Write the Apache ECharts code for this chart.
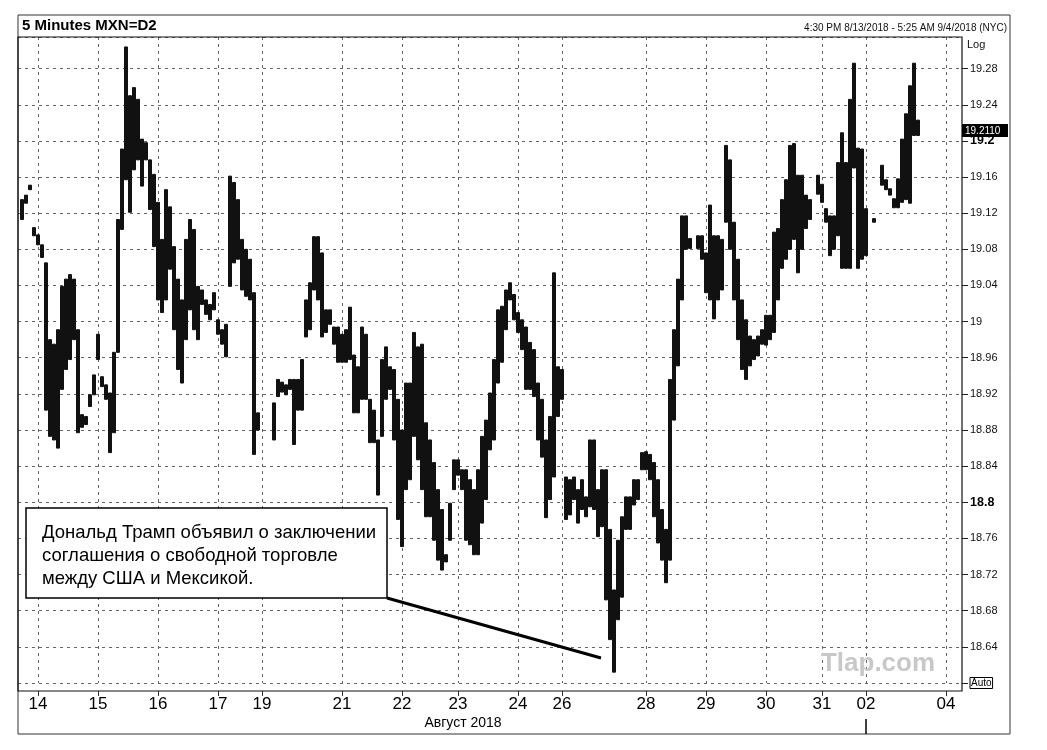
<!DOCTYPE html>
<html><head><meta charset="utf-8">
<script src="https://cdn.jsdelivr.net/npm/echarts/dist/echarts.min.js"></script>
<style>html,body{margin:0;padding:0;background:#fff}#c{width:1047px;height:750px}</style>
</head><body><div id="c"></div><script>
// Day labels on the compressed 5-minute time axis and the bar slot where each day starts
const dayLabels = ['14','15','16','17','19','21','22','23','24','26','28','29','30','31','02','04'];
const daySlots  = [5,20,35,50,61,81,96,110,125,136,157,172,187,201,212,232];
const slotCount = 237;
// Price range per slot (MXN per USD)
const highs = [null,19.135,19.140,19.151,19.104,19.096,19.085,19.065,18.980,18.975,
18.991,19.039,19.047,19.052,19.047,18.991,18.897,18.895,18.919,18.941,
18.986,18.939,18.930,18.921,18.966,19.113,19.191,19.304,19.250,19.259,
19.246,19.202,19.198,19.179,19.163,19.132,19.091,19.146,19.127,19.083,
19.047,19.024,19.091,19.113,19.102,19.039,19.035,19.024,19.019,19.032,
19.002,18.991,18.997,19.161,19.154,19.135,19.091,19.080,19.069,19.032,
18.899,null,null,null,18.910,18.936,18.933,18.930,18.936,18.936,
18.936,18.958,19.024,19.043,19.094,19.094,19.076,19.013,19.013,18.994,
18.994,18.986,18.991,19.016,18.963,18.950,18.994,18.986,18.914,18.902,
18.869,18.958,18.972,18.950,18.947,18.914,18.880,18.932,18.932,18.988,
18.972,18.975,18.888,18.869,18.844,18.814,18.792,18.742,18.799,18.847,
18.847,18.836,18.836,18.825,18.814,18.836,18.873,18.891,18.921,18.958,
19.013,19.017,19.035,19.043,19.030,19.010,19.002,18.994,18.977,18.969,
18.932,18.914,18.869,18.895,19.054,18.950,18.947,18.828,18.825,18.828,
18.814,18.825,18.806,18.869,18.869,18.814,18.836,18.836,18.770,18.703,
18.758,18.784,18.806,18.806,18.825,18.825,18.855,18.856,18.853,18.844,
18.825,18.792,18.770,18.936,18.991,19.047,19.117,19.117,19.092,null,
19.095,19.095,19.076,19.129,19.095,19.095,19.091,19.195,19.179,19.110,
19.069,19.024,19.002,18.984,18.980,18.984,18.991,19.007,19.007,19.099,
19.103,19.135,19.157,19.195,19.197,19.162,19.162,19.140,19.135,null,
19.162,19.152,19.125,19.117,19.117,19.176,19.209,19.176,19.246,19.286,
19.192,19.191,19.125,null,19.114,null,19.173,19.157,19.147,19.136,
19.158,19.202,19.230,19.261,19.286,19.223];
const lows = [null,19.113,19.131,19.146,19.095,19.085,19.071,18.902,18.873,18.869,
18.860,18.925,18.947,18.958,18.980,18.877,18.883,18.886,18.906,18.919,
18.958,18.928,18.914,18.855,18.877,18.966,19.102,19.157,19.121,19.168,
19.179,19.150,19.179,19.124,19.083,19.024,19.010,19.024,19.058,18.991,
18.947,18.932,18.980,19.013,18.991,18.980,19.019,19.008,19.002,19.013,
18.986,18.975,18.961,19.039,19.065,19.069,19.035,19.028,19.024,18.853,
18.880,null,null,null,18.869,18.917,18.922,18.919,18.925,18.864,
18.902,18.902,18.983,18.991,19.035,19.024,18.983,18.988,18.997,18.975,
18.955,18.955,18.955,18.958,18.899,18.899,18.914,18.914,18.866,18.866,
18.808,18.873,18.914,18.925,18.869,18.781,18.751,18.814,18.825,18.873,
18.847,18.814,18.784,18.784,18.758,18.736,18.725,18.734,18.758,18.814,
18.830,18.814,18.758,18.753,18.742,18.742,18.777,18.803,18.858,18.869,
18.932,18.955,18.991,19.024,19.002,18.988,18.969,18.925,18.925,18.917,
18.869,18.850,18.783,18.803,18.828,18.895,18.914,18.781,18.786,18.803,
18.777,18.792,18.784,18.795,18.792,18.762,18.773,18.692,18.648,18.612,
18.670,18.695,18.770,18.770,18.797,18.803,18.836,18.836,18.825,18.784,
18.755,18.736,18.711,18.736,18.891,18.951,19.024,19.080,19.081,null,
19.081,19.069,19.032,19.024,19.003,19.024,19.035,19.110,19.080,19.024,
18.980,18.947,18.936,18.951,18.958,18.962,18.975,18.974,18.980,18.988,
19.024,19.059,19.069,19.080,19.091,19.054,19.080,19.103,19.113,null,
19.141,19.132,19.110,19.073,19.080,19.095,19.059,19.059,19.059,19.170,
19.059,19.069,19.073,null,19.110,null,19.151,19.146,19.140,19.126,
19.126,19.132,19.135,19.131,19.206,19.206];
const lastPrice = 19.2110;
const yMin = 18.60, yMax = 19.315, yStep = 0.04;
const noteLines = ['Дональд Трамп объявил о заключении','соглашения о свободной торговле','между США и Мексикой.'];

const FONT = "'Liberation Sans', Arial, sans-serif";
const categories = [];
for (let i = 0; i < slotCount; i++) categories.push('s' + i);
const labelAt = {};
daySlots.forEach((s, k) => { labelAt[s] = dayLabels[k]; });
const isDay = (idx) => labelAt[idx] !== undefined;

const ohlc = highs.map((h, i) => (h == null || lows[i] == null) ? ['-','-','-','-'] : [lows[i], h, lows[i], h]);

const chart = echarts.init(document.getElementById('c'), null, {renderer: 'canvas'});
chart.setOption({
  animation: false,
  backgroundColor: '#fff',
  grid: {left: 18, right: 85, top: 37, bottom: 67},
  xAxis: {
    type: 'category', data: categories, boundaryGap: false, offset: 8,
    axisLine: {show: false},
    axisTick: {show: true, length: 5, interval: isDay, lineStyle: {color: '#333'}},
    axisLabel: {interval: isDay, formatter: (v, idx) => labelAt[idx] || '', margin: 5,
      fontSize: 17, color: '#000', fontFamily: FONT},
    splitLine: {show: true, interval: isDay, lineStyle: {color: '#666', type: [3, 4], width: 1}}
  },
  yAxis: {
    type: 'value', position: 'right', min: yMin, max: yMax, interval: yStep,
    axisLine: {show: false},
    axisTick: {show: true, length: 6, lineStyle: {color: '#222'}},
    axisLabel: {
      showMaxLabel: false, margin: 8, fontSize: 11, color: '#111', fontFamily: FONT,
      formatter: (v) => {
        if (Math.abs(v - yMin) < 1e-6) return '{auto|Auto}';
        const s = String(parseFloat(v.toFixed(2)));
        if (s === '18.8' || s === '19.2') return '{b|' + s + '}';
        return s;
      },
      rich: {
        b: {fontSize: 12.5, fontWeight: 'bold', color: '#000', fontFamily: FONT},
        auto: {fontSize: 10, color: '#000', borderColor: '#000', borderWidth: 1, padding: [1, 1, 0, 1], fontFamily: FONT}
      }
    },
    splitLine: {show: true, lineStyle: {color: '#666', type: [3, 4], width: 1}}
  },
  series: [{
    type: 'candlestick', data: ohlc, barWidth: 3,
    itemStyle: {color: '#111', color0: '#111', borderColor: '#111', borderColor0: '#111', borderWidth: 1}
  }]
});

// Price box for the last quote, placed through the value axis scale
const py = chart.convertToPixel({yAxisIndex: 0}, lastPrice);
chart.setOption({
  graphic: [
    {type: 'rect', z: 50, shape: {x: 18, y: 15, width: 992, height: 719}, style: {fill: null, stroke: '#333', lineWidth: 1}},
    {type: 'rect', z: 50, shape: {x: 18, y: 37, width: 944, height: 654}, style: {fill: null, stroke: '#111', lineWidth: 1.2}},
    {type: 'text', z: 50, style: {x: 22, y: 26, text: '5 Minutes MXN=D2', font: "bold 15px " + FONT, fill: '#000', verticalAlign: 'middle'}},
    {type: 'text', z: 50, style: {x: 1007, y: 28, text: '4:30 PM 8/13/2018 - 5:25 AM 9/4/2018 (NYC)', font: "10px " + FONT, fill: '#111', align: 'right', verticalAlign: 'middle'}},
    {type: 'text', z: 50, style: {x: 967, y: 45, text: 'Log', font: "11px " + FONT, fill: '#111', verticalAlign: 'middle'}},
    {type: 'text', z: 50, style: {x: 463, y: 723, text: 'Август 2018', font: "14px " + FONT, fill: '#000', align: 'center', verticalAlign: 'middle'}},
    {type: 'line', z: 50, shape: {x1: 866, y1: 719, x2: 866, y2: 734}, style: {stroke: '#000', lineWidth: 1.5}},
    {type: 'text', z: 5, style: {x: 878, y: 664, text: 'Tlap.com', font: "bold 26px " + FONT, fill: '#c8c8c8', align: 'center', verticalAlign: 'middle'}},
    {type: 'rect', z: 70, shape: {x: 962, y: py - 7, width: 46, height: 13}, style: {fill: '#000'}},
    {type: 'text', z: 71, style: {x: 965, y: py, text: lastPrice.toFixed(4), font: "10px " + FONT, fill: '#fff', verticalAlign: 'middle'}},
    {type: 'line', z: 60, shape: {x1: 387, y1: 598, x2: 601, y2: 658}, style: {stroke: '#000', lineWidth: 3}},
    {type: 'rect', z: 60, shape: {x: 26, y: 508, width: 361, height: 90}, style: {fill: '#fff', stroke: '#000', lineWidth: 1.5}},
    {type: 'text', z: 61, style: {x: 42, y: 533, text: noteLines[0], font: "18.5px " + FONT, fill: '#000', verticalAlign: 'middle'}},
    {type: 'text', z: 61, style: {x: 42, y: 556, text: noteLines[1], font: "18.5px " + FONT, fill: '#000', verticalAlign: 'middle'}},
    {type: 'text', z: 61, style: {x: 42, y: 579, text: noteLines[2], font: "18.5px " + FONT, fill: '#000', verticalAlign: 'middle'}}
  ]
});
</script></body></html>
